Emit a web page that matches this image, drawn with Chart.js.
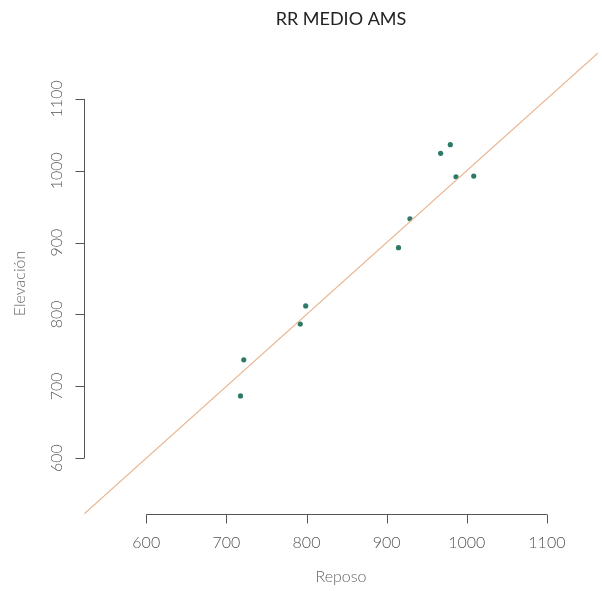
<!DOCTYPE html>
<html>
<head>
<meta charset="utf-8">
<script src="https://cdn.jsdelivr.net/npm/chart.js@4"></script>
<style>
  html, body { margin: 0; padding: 0; background: #fff; }
  #wrap { width: 602px; height: 591px; }
</style>
</head>
<body>
<div id="wrap"><canvas id="chart" width="602" height="591"></canvas></div>
<script>
const reposo = [717.6, 721.7, 792.2, 799.0, 914.8, 929.1, 967.4, 979.5, 986.6, 1008.7];
const elevacion = [686.6, 736.9, 786.7, 811.9, 892.9, 933.0, 1024.2, 1036.3, 991.6, 992.5];
const xTicks = [600, 700, 800, 900, 1000, 1100];
const yTicks = [600, 700, 800, 900, 1000, 1100];
const axisMin = 522.3;
const axisMax = 1163.8;
// reference line y = x
const identity = [{ x: 500, y: 500 }, { x: 1200, y: 1200 }];

const FONT = 'Lato, "Open Sans", sans-serif';

// R-style axes: line only between first and last tick, ticks pointing out
const rAxes = {
  id: 'rAxes',
  afterDraw(chart) {
    const { ctx, chartArea, scales } = chart;
    const xs = scales.x, ys = scales.y;
    ctx.save();
    ctx.strokeStyle = '#555';
    ctx.lineWidth = 1;
    ctx.fillStyle = '#555';
    ctx.font = '300 16px ' + FONT;

    const yb = Math.round(chartArea.bottom) + 0.5;
    ctx.beginPath();
    ctx.moveTo(xs.getPixelForValue(xTicks[0]), yb);
    ctx.lineTo(xs.getPixelForValue(xTicks[xTicks.length - 1]), yb);
    xTicks.forEach(t => {
      const px = Math.round(xs.getPixelForValue(t)) + 0.5;
      ctx.moveTo(px, yb);
      ctx.lineTo(px, yb + 9);
    });
    ctx.stroke();
    ctx.textAlign = 'center';
    ctx.textBaseline = 'middle';
    xTicks.forEach(t => ctx.fillText(String(t), xs.getPixelForValue(t), yb + 28));

    const xl = Math.round(chartArea.left) + 0.5;
    ctx.beginPath();
    ctx.moveTo(xl, ys.getPixelForValue(yTicks[0]));
    ctx.lineTo(xl, ys.getPixelForValue(yTicks[yTicks.length - 1]));
    yTicks.forEach(t => {
      const py = Math.round(ys.getPixelForValue(t)) + 0.5;
      ctx.moveTo(xl, py);
      ctx.lineTo(xl - 9, py);
    });
    ctx.stroke();
    yTicks.forEach(t => {
      ctx.save();
      ctx.translate(xl - 28, ys.getPixelForValue(t));
      ctx.rotate(-Math.PI / 2);
      ctx.fillText(String(t), 0, 0);
      ctx.restore();
    });

    // titles
    const cx = (chartArea.left + chartArea.right) / 2;
    const cy = (chartArea.top + chartArea.bottom) / 2;
    ctx.fillStyle = '#222';
    ctx.font = '400 18px ' + FONT;
    ctx.fillText('RR MEDIO AMS', cx, 19);
    ctx.fillStyle = '#666';
    ctx.font = '300 16px ' + FONT;
    ctx.fillText('Reposo', cx, 577);
    ctx.save();
    ctx.translate(20, cy);
    ctx.rotate(-Math.PI / 2);
    ctx.fillText('Elevación', 0, 0);
    ctx.restore();
    ctx.restore();
  }
};

new Chart(document.getElementById('chart'), {
  type: 'scatter',
  data: {
    datasets: [
      {
        type: 'line',
        data: identity,
        borderColor: '#e9b48e',
        borderWidth: 1.2,
        pointRadius: 0,
        tension: 0,
      },
      {
        data: reposo.map((x, i) => ({ x, y: elevacion[i] })),
        backgroundColor: '#2e7a68',
        borderColor: '#2e7a68',
        pointRadius: 2.6,
        borderWidth: 0,
      },
    ],
  },
  options: {
    responsive: false,
    animation: false,
    layout: { padding: { left: 84, right: 4, top: 53, bottom: 77 } },
    plugins: { legend: { display: false }, tooltip: { enabled: false } },
    scales: {
      x: { type: 'linear', min: axisMin, max: axisMax, display: false },
      y: { type: 'linear', min: axisMin, max: axisMax, display: false },
    },
  },
  plugins: [rAxes],
});
</script>
</body>
</html>
